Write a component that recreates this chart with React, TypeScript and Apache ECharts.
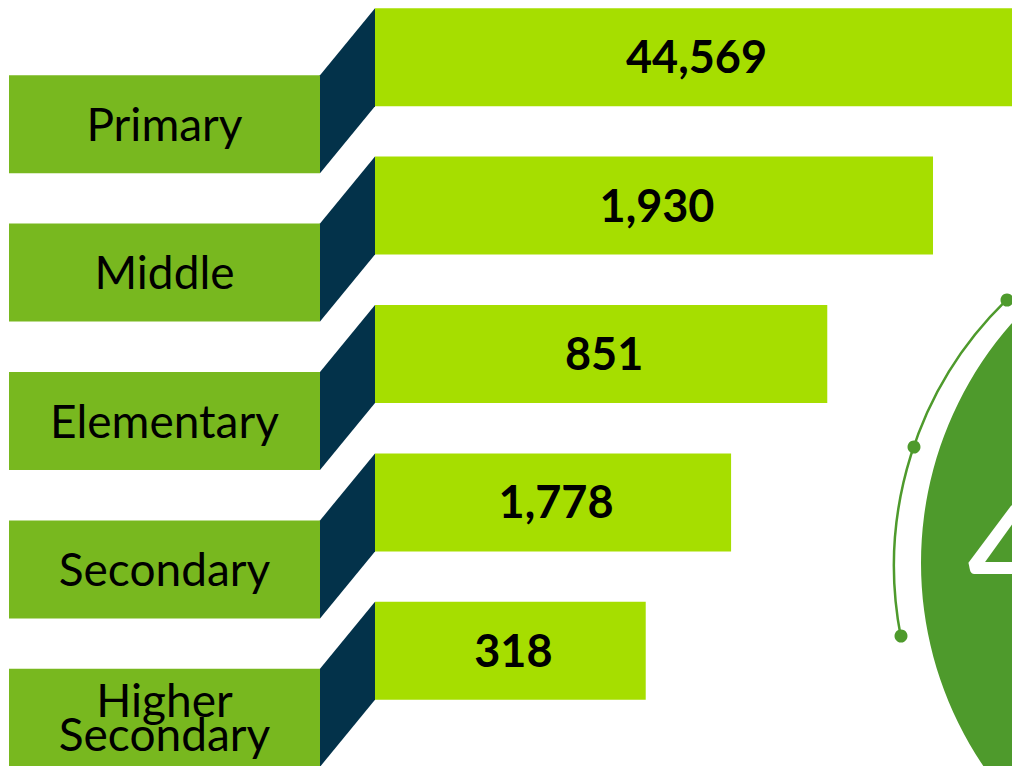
import React, { useEffect, useRef } from "react";
import * as echarts from "echarts";

// ---- data ----
const categories = ["Primary", "Middle", "Elementary", "Secondary", "Higher\nSecondary"];
const values = [44569, 1930, 851, 1778, 318];
// decorative bar lengths (percent of full width)
const barLevels = [100, 87.6, 71.0, 55.9, 42.5];
const totalLabel = "49,446";

const BOX_GREEN = "#78B81F";
const LIME = "#A6DE00";
const NAVY = "#03324A";
const CIRCLE_GREEN = "#4E9A2C";
const FONT = "Lato, 'Open Sans', sans-serif";

// the chart canvas starts this many pixels above the page top
const SHIFT = 17;

export default function App() {
  const ref = useRef<HTMLDivElement>(null);

  useEffect(() => {
    if (!ref.current) return;
    const chart = echarts.init(ref.current, undefined, { renderer: "svg" });
    const BAR_H = 98;
    const option: any = {
      animation: false,
      backgroundColor: "#ffffff",
      grid: { left: 375, top: 0, width: 637, height: 742, containLabel: false },
      xAxis: { type: "value", min: 0, max: 100, show: false },
      yAxis: { type: "category", data: categories, inverse: true, show: false },
      series: [
        {
          type: "custom",
          clip: false,
          data: categories.map((_, i) => [0, i]),
          encode: { x: 0, y: 1 },
          renderItem: (params: any, api: any) => {
            const idx = params.dataIndex;
            const p = api.coord([0, idx]);
            const x0 = p[0];
            const barTop = p[1] - BAR_H / 2;
            const boxTop = barTop + 67;
            const boxLeft = 9;
            const boxRight = x0 - 55;
            return {
              type: "group",
              children: [
                {
                  type: "rect",
                  shape: { x: boxLeft, y: boxTop, width: boxRight - boxLeft, height: BAR_H },
                  style: { fill: BOX_GREEN },
                },
                {
                  type: "polygon",
                  shape: {
                    points: [
                      [boxRight, boxTop],
                      [x0, barTop],
                      [x0, barTop + BAR_H],
                      [boxRight, boxTop + BAR_H],
                    ],
                  },
                  style: { fill: NAVY },
                },
                {
                  type: "text",
                  x: (boxLeft + boxRight) / 2,
                  y: boxTop + BAR_H / 2 - 1,
                  style: {
                    text: categories[idx],
                    fill: "#000000",
                    font: `400 46px ${FONT}`,
                    align: "center",
                    verticalAlign: "middle",
                    lineHeight: 34,
                  },
                },
              ],
            };
          },
        },
        {
          type: "bar",
          data: barLevels,
          barWidth: BAR_H,
          itemStyle: { color: LIME },
          label: {
            show: true,
            position: "inside",
            offset: [3, -1],
            color: "#000000",
            fontFamily: FONT,
            fontWeight: "bold",
            fontSize: 45,
            formatter: (p: any) => values[p.dataIndex].toLocaleString("en-US"),
          },
        },
      ],
      graphic: [
        {
          type: "circle",
          shape: { cx: 1283, cy: 563 + SHIFT, r: 362 },
          style: { fill: CIRCLE_GREEN },
          z: 1,
        },
        {
          type: "arc",
          shape: { cx: 1265, cy: 566 + SHIFT, r: 371, startAngle: 2.95, endAngle: 3.94, clockwise: true },
          style: { stroke: CIRCLE_GREEN, lineWidth: 2.5, fill: "none" },
          z: 1,
        },
        { type: "circle", shape: { cx: 1007, cy: 300 + SHIFT, r: 6.5 }, style: { fill: CIRCLE_GREEN }, z: 2 },
        { type: "circle", shape: { cx: 914, cy: 447 + SHIFT, r: 6.5 }, style: { fill: CIRCLE_GREEN }, z: 2 },
        { type: "circle", shape: { cx: 901, cy: 636 + SHIFT, r: 6.5 }, style: { fill: CIRCLE_GREEN }, z: 2 },
        {
          type: "text",
          x: 968,
          y: 548 + SHIFT,
          z: 3,
          style: {
            text: totalLabel,
            fill: "#ffffff",
            font: `bold 125px ${FONT}`,
            align: "left",
            verticalAlign: "middle",
          },
        },
      ],
    };
    chart.setOption(option);
    return () => chart.dispose();
  }, []);

  return (
    <div style={{ position: "fixed", left: 0, top: 0, width: 1012, height: 766, overflow: "hidden" }}>
      <div
        ref={ref}
        style={{ position: "absolute", left: 0, top: -SHIFT, width: 1012, height: 766 + SHIFT + 20 }}
      />
    </div>
  );
}
